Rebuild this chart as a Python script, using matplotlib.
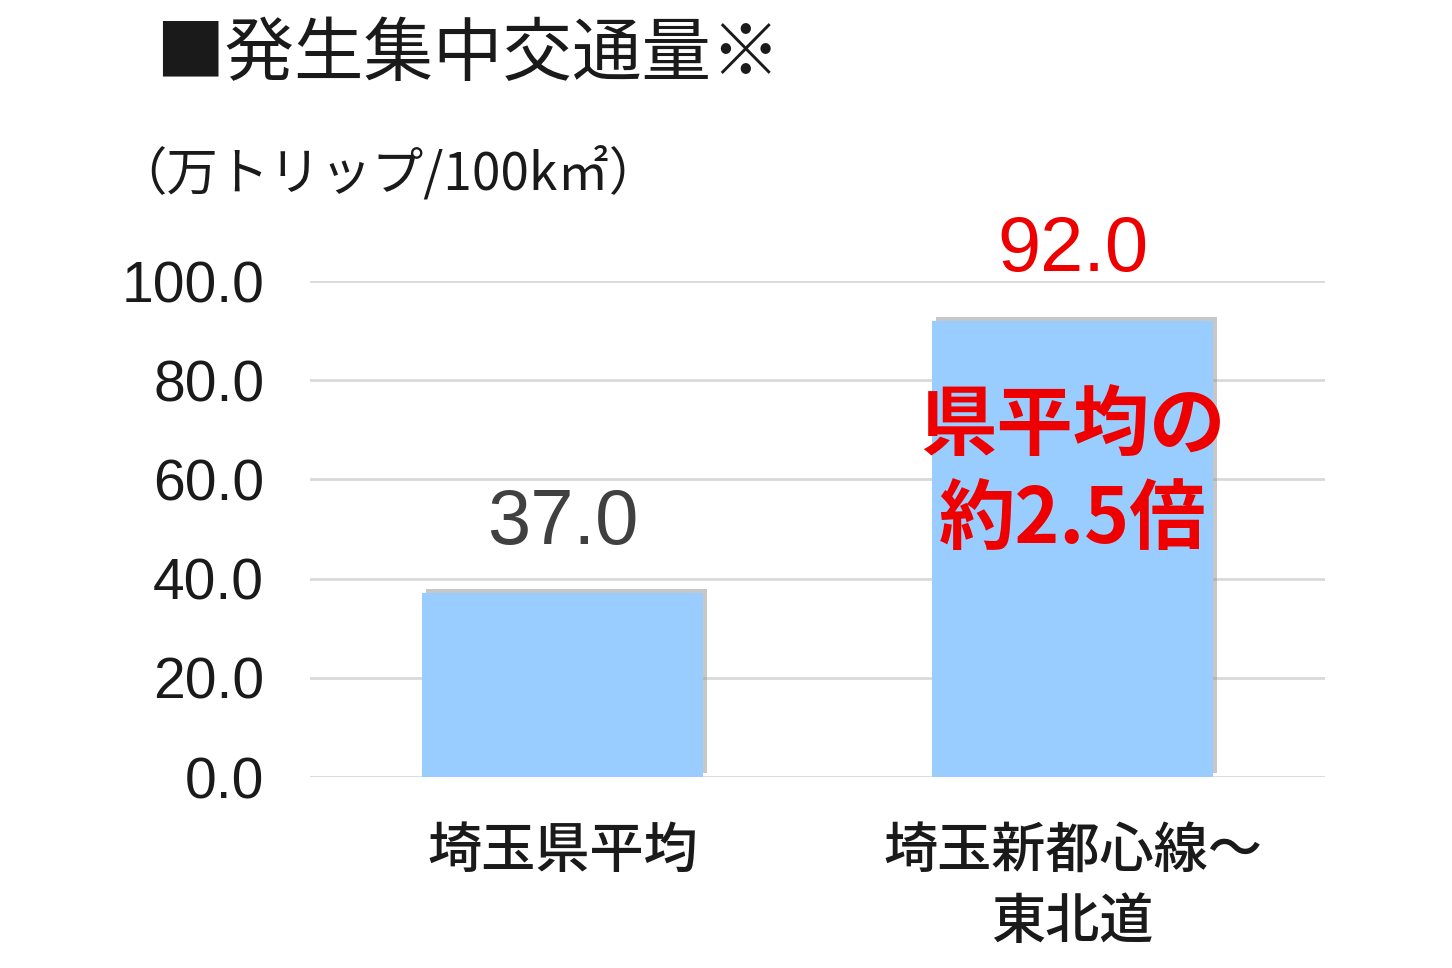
import matplotlib
matplotlib.use('Agg')
import matplotlib.pyplot as plt
import matplotlib.patheffects as pe

title = '■発生集中交通量※'
unit = '（万トリップ/100k㎡）'
categories = ['埼玉県平均', '埼玉新都心線～\n東北道']
values = [37.0, 92.0]
value_colors = ['#404040', '#EE0000']
yticks = [0, 20, 40, 60, 80, 100]
note = '県平均の\n約2.5倍'

cjk = ['Noto Sans CJK JP', 'DejaVu Sans']
num = ['Liberation Sans', 'DejaVu Sans']

fig = plt.figure(figsize=(14.52, 9.68), dpi=100)
ax = fig.add_axes([0.2135, 0.1973, 0.699, 0.5124])

x = list(range(len(values)))
bars = ax.bar(x, values, width=0.55, color='#99CCFF', zorder=3)
for b in bars:
    b.set_path_effects([pe.SimplePatchShadow(offset=(3, 3), shadow_rgbFace='#909090', alpha=0.5), pe.Normal()])

ax.set_xlim(-0.495, 1.495)
ax.set_ylim(0, 100)
ax.set_yticks(yticks)
ax.set_yticklabels(['{:.1f}'.format(v) for v in yticks], family=num, fontsize=41, color='#1a1a1a')
ax.yaxis.grid(True, color='#D9D9D9', linewidth=2, zorder=0)
ax.tick_params(axis='y', length=0, pad=33)
ax.tick_params(axis='x', length=0)
ax.set_xticks([])
for s in ax.spines.values():
    s.set_visible(False)

for i, c in enumerate(categories):
    ax.text(x[i], -9.3, c, ha='center', va='top', family=cjk, fontsize=39,
            fontweight='medium', color='#1a1a1a', linespacing=1.33, clip_on=False)

for i, v in enumerate(values):
    ax.text(x[i], v + 10, '{:.1f}'.format(v), ha='center', va='baseline',
            family=num, fontsize=56, color=value_colors[i], clip_on=False)

ax.text(x[1], 61.2, note, ha='center', va='center', family=cjk, fontsize=55,
        fontweight='bold', color='#EE0000', linespacing=1.25, zorder=4)

fig.text(155 / 1452, 1 - 55 / 968, title, ha='left', va='center', family=cjk, fontsize=50, color='#1a1a1a')
fig.text(115 / 1452, 1 - 175 / 968, unit, ha='left', va='center', family=cjk, fontsize=37, color='#1a1a1a')

fig.savefig('out.png', dpi=100)
